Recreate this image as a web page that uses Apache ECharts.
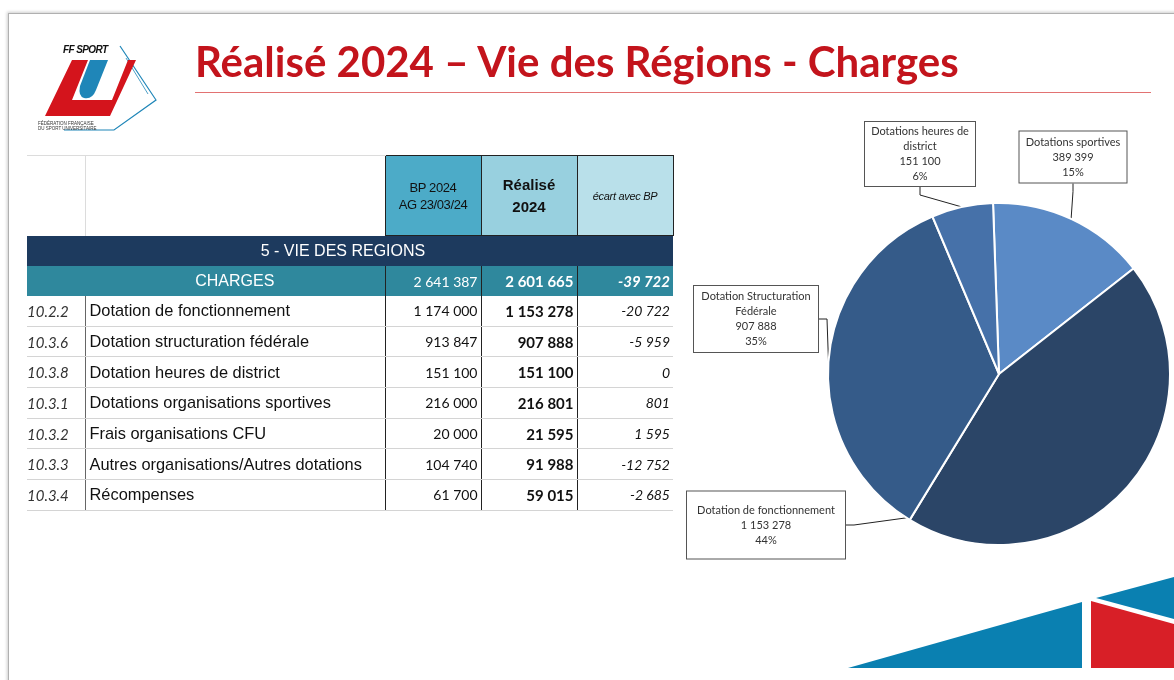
<!DOCTYPE html>
<html>
<head>
<meta charset="utf-8">
<script src="https://cdn.jsdelivr.net/npm/echarts@6/dist/echarts.min.js"></script>
<style>
  html, body { margin: 0; padding: 0; width: 1174px; height: 680px; overflow: hidden; background: #fff; font-family: "Liberation Sans", Arial, sans-serif; }
  #frame { position: absolute; left: 8px; top: 13px; width: 1170px; height: 670px; border-top: 1px solid #b0b0b0; border-left: 1px solid #b0b0b0; box-shadow: -1px -1px 3px rgba(0,0,0,0.2); }
  #chart { position: absolute; left: 0; top: 0; width: 1174px; height: 680px; }
  #deco { position: absolute; left: 0; top: 0; }
  #logo { position: absolute; left: 30px; top: 38px; }
  #title { position: absolute; left: 195px; top: 36px; font-family: Lato, sans-serif; font-weight: 700; font-size: 42px; color: #c3141c; white-space: nowrap; }
  #rule { position: absolute; left: 195px; top: 92px; width: 956px; height: 1px; background: #e27272; }
  #tbl { position: absolute; left: 27px; top: 155px; border-collapse: collapse; table-layout: fixed; width: 646px; }
  #tbl th, #tbl td { padding: 0; overflow: hidden; white-space: nowrap; }
  #tbl thead th { height: 79px; color: #111; text-align: center; font-weight: normal; }
  #tbl th.blank { border-top: 1px solid #dcdcdc; }
  #tbl th.blank1 { border-right: 1px solid #dcdcdc; }
  #tbl th.bp { background: #4cabc8; border: 1px solid #222; font-size: 13px; line-height: 17px; letter-spacing: -0.4px; }
  #tbl th.re { background: #98d0df; border: 1px solid #222; font-size: 15px; font-weight: bold; line-height: 22px; }
  #tbl th.ec { background: #b9e0ea; border: 1px solid #222; font-size: 11px; font-style: italic; letter-spacing: -0.3px; }
  #tbl tr.vie td { background: #1d3a5e; color: #fff; height: 30px; font-size: 16px; text-align: center; padding-right: 14px; }
  #tbl tr.chg td { background: #2f889d; color: #fff; height: 30px; font-size: 16px; }
  #tbl tr.chg td.lab { text-align: center; padding-left: 58px; }
  #tbl tr td.n { font-family: Lato, sans-serif; font-size: 14px; text-align: right; padding-right: 3px; border-left: 1px solid #222; }
  #tbl tr td.n.b { font-size: 15px; font-weight: bold; }
  #tbl tr.row td { height: 29.7px; border-bottom: 1px solid #d4d4d4; color: #111; }
  #tbl tr.row td.code { font-family: Lato, sans-serif; font-style: italic; font-size: 15px; color: #333; border-right: 1px solid #666; }
  #tbl tr.row td.lab { font-size: 16.4px; padding-left: 4px; }
  #tbl td.i { font-style: italic; }
</style>
</head>
<body>
<div id="frame"></div>
<div id="chart"></div>
<svg id="deco" width="1174" height="680">
  <polygon points="848,668 1082,602 1082,668" fill="#0a80b1"/>
  <polygon points="1091,601 1174,624 1174,668 1091,668" fill="#d81f27"/>
  <polygon points="1096,598 1174,577 1174,619" fill="#0a80b1"/>
</svg>
<svg id="logo" width="150" height="100" viewBox="0 0 150 100">
  <polyline points="90,8 126,62 84,92 34,92" fill="none" stroke="#1f86b8" stroke-width="1.2"/>
  <polyline points="96,20 118,56" fill="none" stroke="#1f86b8" stroke-width="0.8"/>
  <polygon points="15,78 42,22 58,22 42,62 82,62 98,22 106,22 80,78" fill="#d4141c"/>
  <path d="M60,22 L78,22 L66,52 Q62,62 54,60 Q48,58 50,48 Z" fill="#1f86b8"/>
  <text x="33" y="15" font-family="Liberation Sans" font-style="italic" font-weight="bold" font-size="10" fill="#111" letter-spacing="-0.6">FF SPORT</text>
  <text x="8" y="87" font-family="Liberation Sans" font-size="4.5" fill="#333">FÉDÉRATION FRANÇAISE</text>
  <text x="8" y="92" font-family="Liberation Sans" font-size="4.5" fill="#333">DU SPORT UNIVERSITAIRE</text>
</svg>
<div id="title">Réalisé 2024 – Vie des Régions - Charges</div>
<div id="rule"></div>
<table id="tbl">
  <colgroup><col style="width:58px"><col style="width:300px"><col style="width:96px"><col style="width:96px"><col style="width:96px"></colgroup>
  <thead>
    <tr>
      <th class="blank blank1"></th>
      <th class="blank"></th>
      <th class="bp">BP 2024<br>AG 23/03/24</th>
      <th class="re">Réalisé<br>2024</th>
      <th class="ec">écart avec BP</th>
    </tr>
  </thead>
  <tbody id="tbody"></tbody>
</table>
<script>
// tableau
const sectionTitle = '5 - VIE DES REGIONS'
const totalLabel = 'CHARGES'
const codes = ['10.2.2', '10.3.6', '10.3.8', '10.3.1', '10.3.2', '10.3.3', '10.3.4']
const postes = ['Dotation de fonctionnement', 'Dotation structuration fédérale', 'Dotation heures de district',
  'Dotations organisations sportives', 'Frais organisations CFU', 'Autres organisations/Autres dotations', 'Récompenses']
const bp2024 = [1174000, 913847, 151100, 216000, 20000, 104740, 61700]
const realise2024 = [1153278, 907888, 151100, 216801, 21595, 91988, 59015]
const ecartBP = [-20722, -5959, 0, 801, 1595, -12752, -2685]
const totals = [2641387, 2601665, -39722]

// camembert
const pieNames = ['Dotations sportives', 'Dotation de fonctionnement', 'Dotation Structuration\nFédérale', 'Dotations heures de\ndistrict']
const pieValues = [389399, 1153278, 907888, 151100]
const pieColors = ['#5a8ac6', '#2b4567', '#355b89', '#4671a9']
// position des bulles (centre x, centre y, largeur, padding vertical)
const calloutBoxes = [
  [1073, 157, 108, 3],
  [766, 525, 159, 11],
  [756, 319, 125, 3],
  [920, 154, 111, 2]
]

function fmt(n) {
  const s = Math.abs(n).toString().replace(/\B(?=(\d{3})+(?!\d))/g, ' ')
  return (n < 0 ? '-' : '') + s
}

let html = ''
html += '<tr class="vie"><td colspan="5">' + sectionTitle + '</td></tr>'
html += '<tr class="chg"><td class="lab" colspan="2">' + totalLabel + '</td>' +
  '<td class="n">' + fmt(totals[0]) + '</td>' +
  '<td class="n b">' + fmt(totals[1]) + '</td>' +
  '<td class="n b i">' + fmt(totals[2]) + '</td></tr>'
codes.forEach((c, i) => {
  html += '<tr class="row"><td class="code">' + c + '</td>' +
    '<td class="lab">' + postes[i] + '</td>' +
    '<td class="n">' + fmt(bp2024[i]) + '</td>' +
    '<td class="n b">' + fmt(realise2024[i]) + '</td>' +
    '<td class="n i">' + fmt(ecartBP[i]) + '</td></tr>'
})
document.getElementById('tbody').innerHTML = html

let myChart = echarts.init(document.getElementById('chart'))
let option = {
  animation: false,
  series: [
    {
      type: 'pie',
      center: [999, 374],
      radius: 171,
      startAngle: 92,
      clockwise: true,
      avoidLabelOverlap: false,
      percentPrecision: 0,
      itemStyle: { borderColor: '#ffffff', borderWidth: 2 },
      emphasis: { disabled: true },
      label: {
        show: true,
        position: 'outside',
        formatter: p => p.name + '\n' + fmt(p.value) + '\n' + p.percent + '%',
        fontFamily: 'Lato',
        fontSize: 11,
        lineHeight: 15,
        color: '#333',
        backgroundColor: '#ffffff',
        borderColor: '#555',
        borderWidth: 1,
        align: 'center',
        overflow: 'none'
      },
      labelLine: {
        show: true,
        length: 12,
        length2: 8,
        lineStyle: { color: '#222', width: 1 }
      },
      labelLayout: function (params) {
        const b = calloutBoxes[params.dataIndex]
        return { x: b[0], y: b[1], align: 'center', verticalAlign: 'middle' }
      },
      data: pieValues.map((v, i) => ({
        name: pieNames[i],
        value: v,
        itemStyle: { color: pieColors[i] },
        label: { width: calloutBoxes[i][2] - 9, padding: [calloutBoxes[i][3], 4] }
      }))
    }
  ]
}
myChart.setOption(option)
</script>
</body>
</html>
